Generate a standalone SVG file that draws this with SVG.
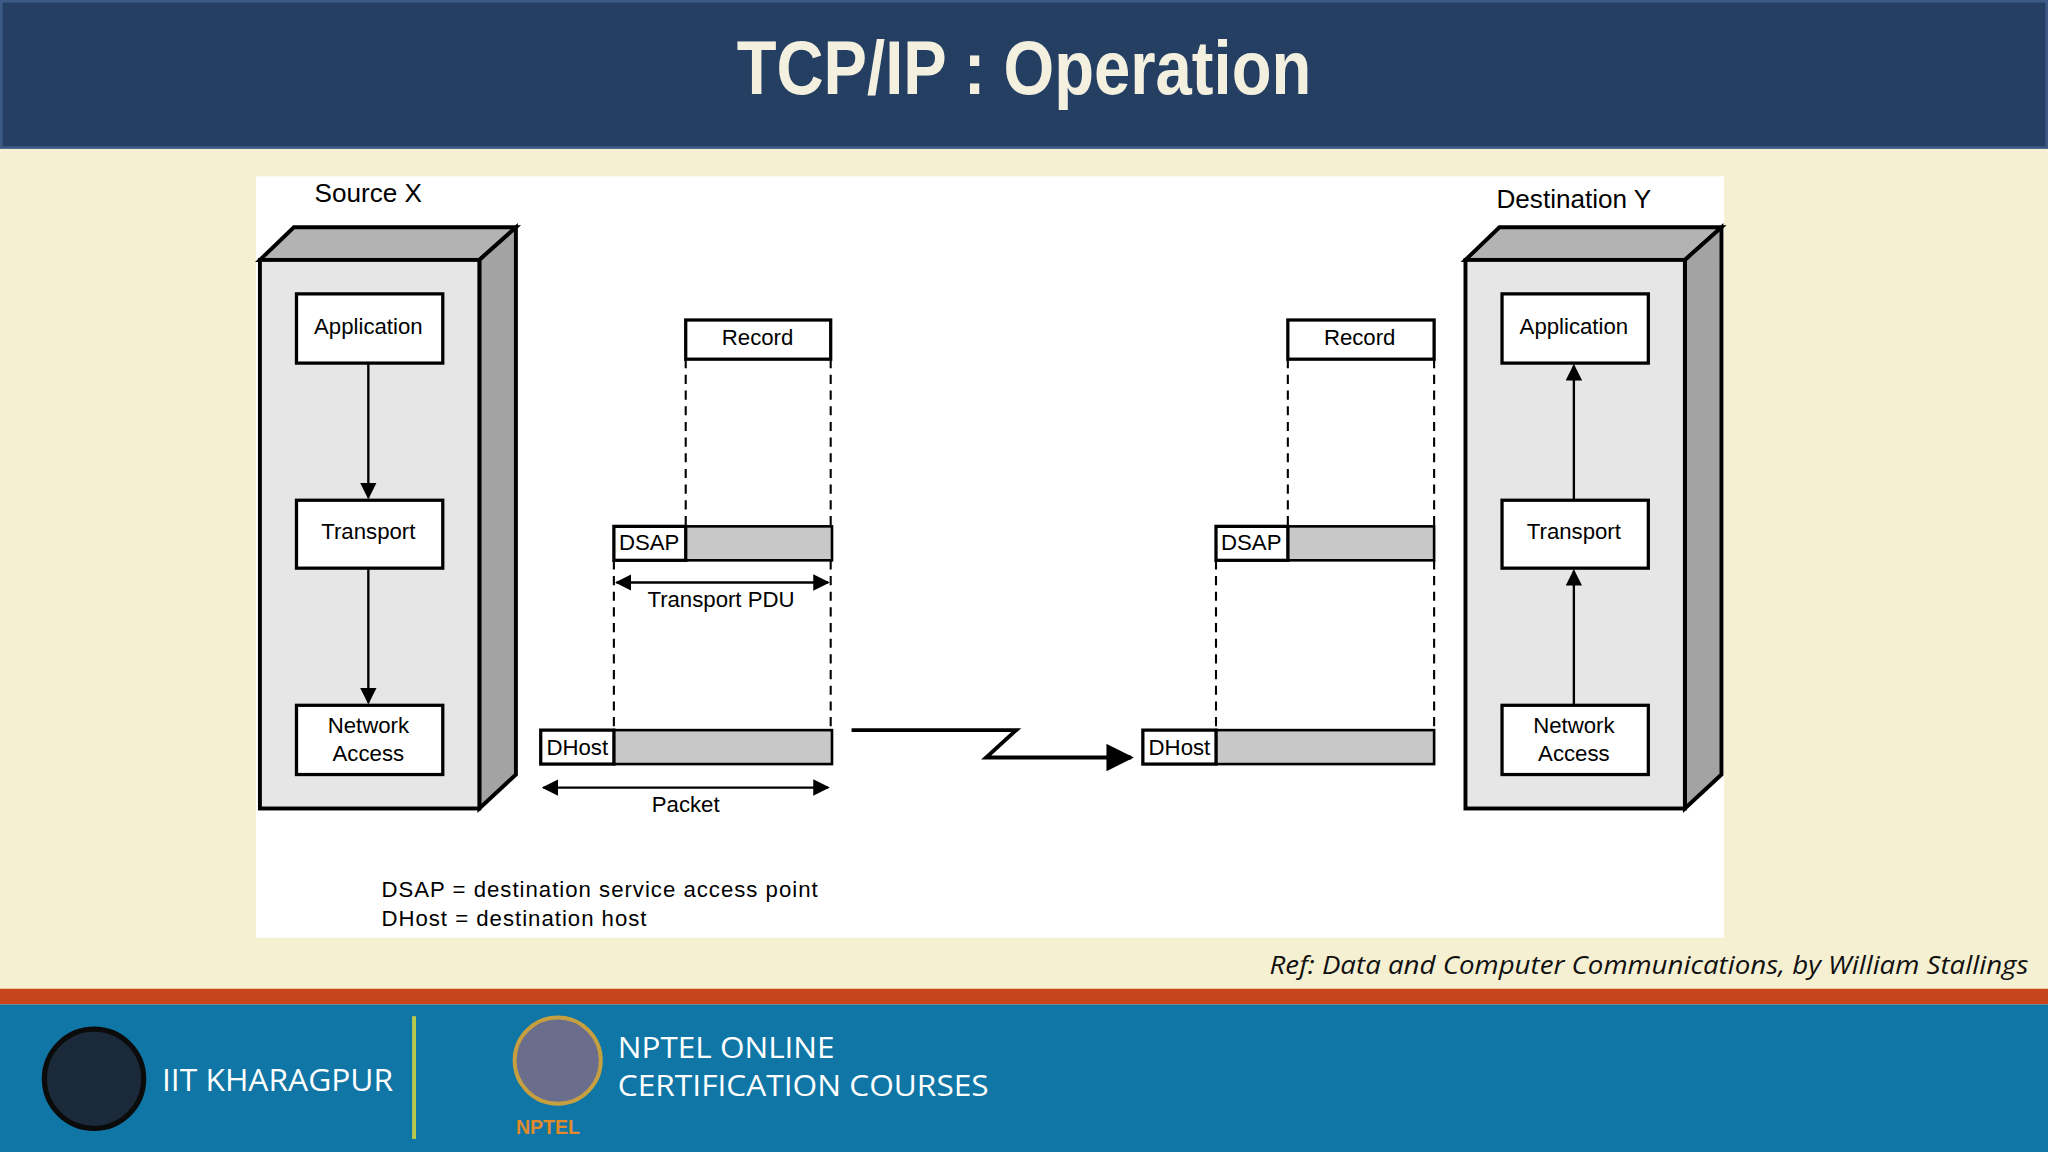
<svg xmlns="http://www.w3.org/2000/svg" width="2048" height="1152" viewBox="0 0 2048 1152">
<defs>
<style>
.t{font-family:"Liberation Sans",Arial,sans-serif;fill:#000}
.box{fill:#fff;stroke:#000;stroke-width:2.5}
.grey{fill:#c8c8c8;stroke:#000;stroke-width:2}
.dash{stroke:#000;stroke-width:1.6;stroke-dasharray:7,5;fill:none}
.ln{stroke:#000;stroke-width:1.8;fill:none}
</style>
<marker id="ah" viewBox="0 0 10 10" refX="9" refY="5" markerWidth="7" markerHeight="7" orient="auto-start-reverse"><path d="M0,0L10,5L0,10z" fill="#000"/></marker>
</defs>
<g transform="scale(1.30612)">
<rect x="0" y="0" width="1568" height="882" fill="#f6f0d2"/>
<rect x="1" y="1" width="1566" height="112" fill="#253f63" stroke="#3c5a85" stroke-width="2"/>
<text x="784" y="72" text-anchor="middle" font-family="Liberation Sans,Arial,sans-serif" font-weight="bold" font-size="58" fill="#f3f0e0" textLength="440" lengthAdjust="spacingAndGlyphs">TCP/IP : Operation</text>
<rect x="196" y="135" width="1124" height="583" fill="#fff"/>

<g id="source">
<text class="t" x="282" y="155" text-anchor="middle" font-size="20">Source X</text>
<polygon points="199,199 225,174 395,174 367,199" fill="#b3b3b3" stroke="#000" stroke-width="3"/>
<polygon points="367,199 395,174 395,593 367,619" fill="#a3a3a3" stroke="#000" stroke-width="3"/>
<rect x="199" y="199" width="168" height="420" fill="#e6e6e6" stroke="#000" stroke-width="3"/>
</g>
<g id="src-app"><rect class="box" x="227" y="225" width="112" height="53"/><text class="t" x="282" y="256" text-anchor="middle" font-size="17">Application</text></g>
<g id="src-transport"><rect class="box" x="227" y="383" width="112" height="52"/><text class="t" x="282" y="413" text-anchor="middle" font-size="17">Transport</text></g>
<g id="src-net"><rect class="box" x="227" y="540" width="112" height="53"/><text class="t" x="282" y="561" text-anchor="middle" font-size="17">Network</text><text class="t" x="282" y="583" text-anchor="middle" font-size="17">Access</text></g>

<g id="dest">
<text class="t" x="1205" y="159" text-anchor="middle" font-size="20">Destination Y</text>
<polygon points="1122,199 1148,174 1318,174 1290,199" fill="#b3b3b3" stroke="#000" stroke-width="3"/>
<polygon points="1290,199 1318,174 1318,593 1290,619" fill="#a3a3a3" stroke="#000" stroke-width="3"/>
<rect x="1122" y="199" width="168" height="420" fill="#e6e6e6" stroke="#000" stroke-width="3"/>
</g>
<g id="dst-app"><rect class="box" x="1150" y="225" width="112" height="53"/><text class="t" x="1205" y="256" text-anchor="middle" font-size="17">Application</text></g>
<g id="dst-transport"><rect class="box" x="1150" y="383" width="112" height="52"/><text class="t" x="1205" y="413" text-anchor="middle" font-size="17">Transport</text></g>
<g id="dst-net"><rect class="box" x="1150" y="540" width="112" height="53"/><text class="t" x="1205" y="561" text-anchor="middle" font-size="17">Network</text><text class="t" x="1205" y="583" text-anchor="middle" font-size="17">Access</text></g>

<g id="left-pdu">
<rect class="box" x="525" y="245" width="111" height="30" stroke-width="2"/><text class="t" x="580" y="264" text-anchor="middle" font-size="17">Record</text>
<rect class="grey" x="525" y="403" width="112" height="26"/><rect class="box" x="470" y="403" width="55" height="26" stroke-width="2"/><text class="t" x="497" y="421" text-anchor="middle" font-size="17">DSAP</text>
<rect class="grey" x="470" y="559" width="167" height="26"/><rect class="box" x="414" y="559" width="56" height="26" stroke-width="2"/><text class="t" x="442" y="578" text-anchor="middle" font-size="17">DHost</text>
<text class="t" x="552" y="465" text-anchor="middle" font-size="17">Transport PDU</text>
<text class="t" x="525" y="622" text-anchor="middle" font-size="17">Packet</text>
</g>
<g id="right-pdu">
<rect class="box" x="986" y="245" width="112" height="30" stroke-width="2"/><text class="t" x="1041" y="264" text-anchor="middle" font-size="17">Record</text>
<rect class="grey" x="986" y="403" width="112" height="26"/><rect class="box" x="931" y="403" width="55" height="26" stroke-width="2"/><text class="t" x="958" y="421" text-anchor="middle" font-size="17">DSAP</text>
<rect class="grey" x="931" y="559" width="167" height="26"/><rect class="box" x="875" y="559" width="56" height="26" stroke-width="2"/><text class="t" x="903" y="578" text-anchor="middle" font-size="17">DHost</text>
</g>

<g id="connectors">
<line class="ln" x1="282" y1="278" x2="282" y2="381" marker-end="url(#ah)"/>
<line class="ln" x1="282" y1="435" x2="282" y2="538" marker-end="url(#ah)"/>
<line class="ln" x1="1205" y1="383" x2="1205" y2="280" marker-end="url(#ah)"/>
<line class="ln" x1="1205" y1="540" x2="1205" y2="437" marker-end="url(#ah)"/>
<path class="dash" d="M525,275V403M636,275V403M470,429V559M636,429V559"/>
<path class="dash" d="M986,275V403M1098,275V403M931,429V559M1098,429V559"/>
<line class="ln" x1="472" y1="446" x2="634" y2="446" marker-start="url(#ah)" marker-end="url(#ah)"/>
<line class="ln" x1="416" y1="603" x2="634" y2="603" marker-start="url(#ah)" marker-end="url(#ah)"/>
<path d="M652,559H778L755,580H866" fill="none" stroke="#000" stroke-width="3" marker-end="url(#ah)"/>
</g>

<text class="t" x="292" y="687" font-size="17" textLength="334">DSAP = destination service access point</text>
<text class="t" x="292" y="709" font-size="17" textLength="203">DHost = destination host</text>
<text x="1553" y="746" text-anchor="end" font-family="Open Sans,Liberation Sans,sans-serif" font-style="italic" font-size="20" fill="#111" textLength="581" lengthAdjust="spacingAndGlyphs">Ref: Data and Computer Communications, by William Stallings</text>

<rect x="0" y="757" width="1568" height="12" fill="#c8441b"/>
<rect x="0" y="769" width="1568" height="113" fill="#0f76a6"/>
<circle cx="72" cy="826" r="38" fill="#1b2a3a" stroke="#0b0b0b" stroke-width="4"/>
<text x="124" y="835" font-family="Open Sans,Liberation Sans,sans-serif" font-size="24" fill="#fff" textLength="177" lengthAdjust="spacingAndGlyphs">IIT KHARAGPUR</text>
<line x1="317" y1="778" x2="317" y2="872" stroke="#b7c94a" stroke-width="3"/>
<circle cx="427" cy="812" r="33" fill="#6a6e8c" stroke="#c6a040" stroke-width="3"/>
<text x="473" y="810" font-family="Open Sans,Liberation Sans,sans-serif" font-size="23" fill="#fff" textLength="166" lengthAdjust="spacingAndGlyphs">NPTEL ONLINE</text>
<text x="473" y="839" font-family="Open Sans,Liberation Sans,sans-serif" font-size="23" fill="#fff" textLength="284" lengthAdjust="spacingAndGlyphs">CERTIFICATION COURSES</text>
<text x="395" y="868" font-family="Liberation Sans,sans-serif" font-weight="bold" font-size="15" fill="#e08a2a">NPTEL</text>
</g>
</svg>
